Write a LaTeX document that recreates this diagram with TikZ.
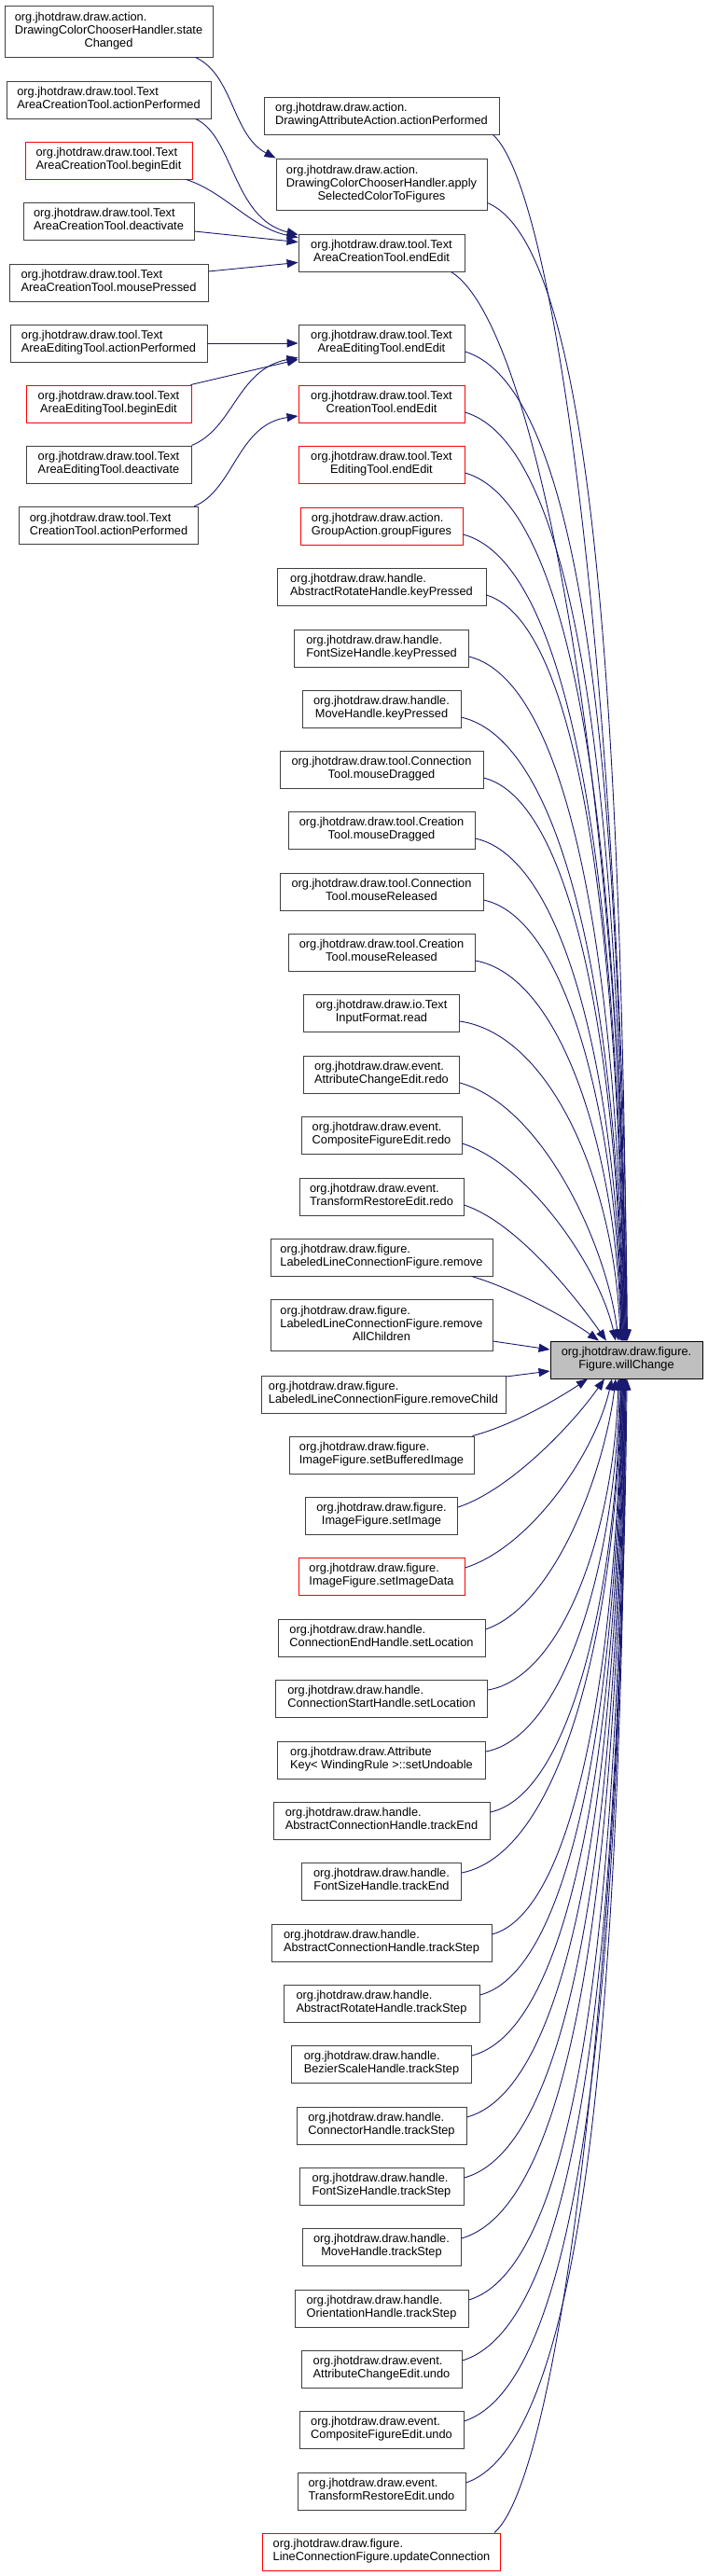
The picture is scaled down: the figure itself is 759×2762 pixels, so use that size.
\documentclass[tikz,border=0pt]{standalone}
\usepackage{fontspec}
\setmainfont{Liberation Sans}
\usetikzlibrary{arrows.meta}

\definecolor{edgeblue}{HTML}{191970}
\definecolor{boxgrey}{HTML}{404040}
\definecolor{rootfill}{HTML}{BFBFBF}

\newcommand{\graphfont}{\fontsize{12.8pt}{14pt}\selectfont}
\newcommand{\twoline}[2]{\begin{tabular}{@{}l@{}}#1\\\multicolumn{1}{@{}c@{}}{#2}\end{tabular}}
\newcommand{\threeline}[3]{\begin{tabular}{@{}l@{}}#1\\#2\\\multicolumn{1}{@{}c@{}}{#3}\end{tabular}}

\tikzset{
  func box/.style={
    rectangle, draw=boxgrey, fill=white, line width=0.9pt, inner sep=0pt,
    minimum height=40pt, font=\graphfont
  },
  trunc box/.style={
    func box, draw=red
  },
  root box/.style={
    func box, draw=black, fill=rootfill
  },
  call edge/.style={
    draw=edgeblue, line width=0.9pt, -{Triangle[length=12pt,width=9pt]}
  }
}

\begin{document}
\begin{tikzpicture}[x=1pt, y=-1pt]
\useasboundingbox (0,0) rectangle (759,2762);

% 左列：调用者的调用者
\begin{scope}[shift={(116.5,0)}]
  \node[func box, minimum width=223pt, minimum height=55pt] (l1) at (0,33.5)
    {\threeline{org.jhotdraw.draw.action.}{DrawingColorChooserHandler.state}{Changed}};
  \node[func box, minimum width=219pt] (l2) at (0,107)
    {\twoline{org.jhotdraw.draw.tool.Text}{AreaCreationTool.actionPerformed}};
  \node[trunc box, minimum width=179pt] (l3) at (0,172)
    {\twoline{org.jhotdraw.draw.tool.Text}{AreaCreationTool.beginEdit}};
  \node[func box, minimum width=183pt] (l4) at (0,237)
    {\twoline{org.jhotdraw.draw.tool.Text}{AreaCreationTool.deactivate}};
  \node[func box, minimum width=213pt] (l5) at (0,303)
    {\twoline{org.jhotdraw.draw.tool.Text}{AreaCreationTool.mousePressed}};
  \node[func box, minimum width=211pt] (l6) at (0,368)
    {\twoline{org.jhotdraw.draw.tool.Text}{AreaEditingTool.actionPerformed}};
  \node[trunc box, minimum width=177pt] (l7) at (0,433)
    {\twoline{org.jhotdraw.draw.tool.Text}{AreaEditingTool.beginEdit}};
  \node[func box, minimum width=177pt] (l8) at (0,498)
    {\twoline{org.jhotdraw.draw.tool.Text}{AreaEditingTool.deactivate}};
  \node[func box, minimum width=192pt] (l9) at (0,563.5)
    {\twoline{org.jhotdraw.draw.tool.Text}{CreationTool.actionPerformed}};
\end{scope}

% 中列：直接调用者
\begin{scope}[shift={(409,0)}]
  \node[func box, minimum width=252pt] (m1) at (0,124)
    {\twoline{org.jhotdraw.draw.action.}{DrawingAttributeAction.actionPerformed}};
  \node[func box, minimum width=226pt, minimum height=55pt] (m2) at (0,197.5)
    {\threeline{org.jhotdraw.draw.action.}{DrawingColorChooserHandler.apply}{SelectedColorToFigures}};
  \node[func box, minimum width=178pt] (m3) at (0,271)
    {\twoline{org.jhotdraw.draw.tool.Text}{AreaCreationTool.endEdit}};
  \node[func box, minimum width=178pt] (m4) at (0,368)
    {\twoline{org.jhotdraw.draw.tool.Text}{AreaEditingTool.endEdit}};
  \node[trunc box, minimum width=178pt] (m5) at (0,433)
    {\twoline{org.jhotdraw.draw.tool.Text}{CreationTool.endEdit}};
  \node[trunc box, minimum width=178pt] (m6) at (0,498)
    {\twoline{org.jhotdraw.draw.tool.Text}{EditingTool.endEdit}};
  \node[trunc box, minimum width=174pt] (m7) at (0,564)
    {\twoline{org.jhotdraw.draw.action.}{GroupAction.groupFigures}};
  \node[func box, minimum width=224pt] (m8) at (0,629)
    {\twoline{org.jhotdraw.draw.handle.}{AbstractRotateHandle.keyPressed}};
  \node[func box, minimum width=187pt] (m9) at (0,695)
    {\twoline{org.jhotdraw.draw.handle.}{FontSizeHandle.keyPressed}};
  \node[func box, minimum width=170pt] (m10) at (0,760)
    {\twoline{org.jhotdraw.draw.handle.}{MoveHandle.keyPressed}};
  \node[func box, minimum width=218pt] (m11) at (0,825)
    {\twoline{org.jhotdraw.draw.tool.Connection}{Tool.mouseDragged}};
  \node[func box, minimum width=200pt] (m12) at (0,890)
    {\twoline{org.jhotdraw.draw.tool.Creation}{Tool.mouseDragged}};
  \node[func box, minimum width=218pt] (m13) at (0,956)
    {\twoline{org.jhotdraw.draw.tool.Connection}{Tool.mouseReleased}};
  \node[func box, minimum width=200pt] (m14) at (0,1021)
    {\twoline{org.jhotdraw.draw.tool.Creation}{Tool.mouseReleased}};
  \node[func box, minimum width=167pt] (m15) at (0,1086)
    {\twoline{org.jhotdraw.draw.io.Text}{InputFormat.read}};
  \node[func box, minimum width=167pt] (m16) at (0,1152)
    {\twoline{org.jhotdraw.draw.event.}{AttributeChangeEdit.redo}};
  \node[func box, minimum width=172pt] (m17) at (0,1217)
    {\twoline{org.jhotdraw.draw.event.}{CompositeFigureEdit.redo}};
  \node[func box, minimum width=176pt] (m18) at (0,1283)
    {\twoline{org.jhotdraw.draw.event.}{TransformRestoreEdit.redo}};
  \node[func box, minimum width=238pt] (m19) at (0,1348)
    {\twoline{org.jhotdraw.draw.figure.}{LabeledLineConnectionFigure.remove}};
  \node[func box, minimum width=238pt, minimum height=55pt] (m20) at (0,1421)
    {\threeline{org.jhotdraw.draw.figure.}{LabeledLineConnectionFigure.remove}{AllChildren}};
  \node[func box, minimum width=262pt] (m21) at (2,1495)
    {\twoline{org.jhotdraw.draw.figure.}{LabeledLineConnectionFigure.removeChild}};
  \node[func box, minimum width=198pt] (m22) at (0,1560)
    {\twoline{org.jhotdraw.draw.figure.}{ImageFigure.setBufferedImage}};
  \node[func box, minimum width=163pt] (m23) at (0,1625)
    {\twoline{org.jhotdraw.draw.figure.}{ImageFigure.setImage}};
  \node[trunc box, minimum width=178pt] (m24) at (0,1690)
    {\twoline{org.jhotdraw.draw.figure.}{ImageFigure.setImageData}};
  \node[func box, minimum width=222pt] (m25) at (0,1756)
    {\twoline{org.jhotdraw.draw.handle.}{ConnectionEndHandle.setLocation}};
  \node[func box, minimum width=227pt] (m26) at (0,1821)
    {\twoline{org.jhotdraw.draw.handle.}{ConnectionStartHandle.setLocation}};
  \node[func box, minimum width=223pt] (m27) at (0,1887)
    {\twoline{org.jhotdraw.draw.Attribute}{Key< WindingRule >::setUndoable}};
  \node[func box, minimum width=232pt] (m28) at (0,1952)
    {\twoline{org.jhotdraw.draw.handle.}{AbstractConnectionHandle.trackEnd}};
  \node[func box, minimum width=171pt] (m29) at (0,2017)
    {\twoline{org.jhotdraw.draw.handle.}{FontSizeHandle.trackEnd}};
  \node[func box, minimum width=236pt] (m30) at (0,2083)
    {\twoline{org.jhotdraw.draw.handle.}{AbstractConnectionHandle.trackStep}};
  \node[func box, minimum width=210pt] (m31) at (0,2148)
    {\twoline{org.jhotdraw.draw.handle.}{AbstractRotateHandle.trackStep}};
  \node[func box, minimum width=193pt] (m32) at (0,2213)
    {\twoline{org.jhotdraw.draw.handle.}{BezierScaleHandle.trackStep}};
  \node[func box, minimum width=182pt] (m33) at (0,2279)
    {\twoline{org.jhotdraw.draw.handle.}{ConnectorHandle.trackStep}};
  \node[func box, minimum width=176pt] (m34) at (0,2344)
    {\twoline{org.jhotdraw.draw.handle.}{FontSizeHandle.trackStep}};
  \node[func box, minimum width=170pt] (m35) at (0,2409)
    {\twoline{org.jhotdraw.draw.handle.}{MoveHandle.trackStep}};
  \node[func box, minimum width=186pt] (m36) at (0,2475)
    {\twoline{org.jhotdraw.draw.handle.}{OrientationHandle.trackStep}};
  \node[func box, minimum width=172pt] (m37) at (0,2540)
    {\twoline{org.jhotdraw.draw.event.}{AttributeChangeEdit.undo}};
  \node[func box, minimum width=176pt] (m38) at (0,2605)
    {\twoline{org.jhotdraw.draw.event.}{CompositeFigureEdit.undo}};
  \node[func box, minimum width=180pt] (m39) at (0,2671)
    {\twoline{org.jhotdraw.draw.event.}{TransformRestoreEdit.undo}};
  \node[trunc box, minimum width=255pt] (m40) at (0,2736)
    {\twoline{org.jhotdraw.draw.figure.}{LineConnectionFigure.updateConnection}};
\end{scope}

% 右侧：被调用函数
\node[root box, minimum width=163pt] (wc) at (671.5,1458)
  {\twoline{org.jhotdraw.draw.figure.}{Figure.willChange}};

% 左列 -> 中列
\draw[call edge] ([xshift=-19pt]l1.south east) .. controls +(41,19) and +(-47,-25) .. (m2.north west);
\draw[call edge] ([xshift=-17pt]l2.south east) .. controls +(41,18) and +(-70,-17) .. ([yshift=-1pt]m3.north west);
\draw[call edge] ([xshift=-7pt]l3.south east) .. controls +(41,13) and +(-50,-10) .. ([yshift=-4pt]m3.north west);
\draw[call edge] ([yshift=-11pt]l4.east) -- ([yshift=-9pt]m3.north west);
\draw[call edge] ([yshift=12pt]l5.east) -- ([yshift=10pt]m3.south west);
\draw[call edge] (l6.east) -- (m4.west);
\draw[call edge] ([xshift=-1pt]l7.north east) -- ([yshift=3pt]m4.south west);
\draw[call edge] (l8.north east) .. controls +(45,-18) and +(-65,12) .. ([yshift=5pt]m4.south west);
\draw[call edge] ([xshift=-5pt]l9.north east) .. controls +(43,-18) and +(-65,9) .. ([yshift=-13pt]m5.west);

% 中列 -> willChange（上半）
\draw[call edge] ([xshift=-7pt]m1.south east) .. controls +(72,65) and +(-5,-647) .. ([xshift=1pt]wc.north);
\draw[call edge] ([yshift=-20pt]m2.east) .. controls +(120,49) and +(-5,-610) .. ([xshift=0.5pt]wc.north);
\draw[call edge] ([xshift=-15pt]m3.south east) .. controls +(94,57) and +(-5,-574) .. (wc.north);
\draw[call edge] ([yshift=-9pt]m4.east) .. controls +(138,42) and +(-5,-529) .. ([xshift=-0.5pt]wc.north);
\draw[call edge] ([yshift=-9pt]m5.east) .. controls +(134,40) and +(-5,-497) .. ([xshift=-1pt]wc.north);
\draw[call edge] ([yshift=-9pt]m6.east) .. controls +(130,37) and +(-5,-464) .. ([xshift=-1.5pt]wc.north);
\draw[call edge] ([yshift=-9pt]m7.east) .. controls +(127,34) and +(-5,-431) .. ([xshift=-2pt]wc.north);
\draw[call edge] ([yshift=-9pt]m8.east) .. controls +(106,32) and +(-5,-399) .. ([xshift=-2.5pt]wc.north);
\draw[call edge] ([yshift=-9pt]m9.east) .. controls +(115,29) and +(-5,-366) .. ([xshift=-3pt]wc.north);
\draw[call edge] ([yshift=-9pt]m10.east) .. controls +(117,27) and +(-5,-333) .. ([xshift=-3.5pt]wc.north);
\draw[call edge] ([yshift=-9pt]m11.east) .. controls +(97,24) and +(-5,-300) .. ([xshift=-4pt]wc.north);
\draw[call edge] ([yshift=-9pt]m12.east) .. controls +(99,21) and +(-5,-268) .. ([xshift=-4.5pt]wc.north);
\draw[call edge] ([yshift=-9pt]m13.east) .. controls +(90,19) and +(-5,-235) .. ([xshift=-5pt]wc.north);
\draw[call edge] ([yshift=-9pt]m14.east) .. controls +(92,16) and +(-5,-203) .. ([xshift=-5.5pt]wc.north);
\draw[call edge] ([yshift=-9pt]m15.east) .. controls +(97,14) and +(-6,-170) .. ([xshift=-6.5pt]wc.north);
\draw[call edge] ([yshift=-9pt]m16.east) .. controls +(90,25) and +(-12,-100) .. ([xshift=-8.5pt]wc.north);
\draw[call edge] ([yshift=-9pt]m17.east) .. controls +(70,22) and +(-18,-80) .. ([xshift=-11.5pt]wc.north);
\draw[call edge] ([yshift=-9pt]m18.east) .. controls +(55,18) and +(-35,-50) .. ([xshift=-21.5pt]wc.north);
\draw[call edge] ([xshift=-23pt]m19.south east) .. controls +(45,13) and +(-30,-22) .. ([xshift=-29.5pt]wc.north);

% 中列 -> willChange（左侧）
\draw[call edge] ([yshift=-17pt]m20.east) -- ([yshift=11pt]wc.west);
\draw[call edge] ([yshift=19pt]m21.east) -- ([yshift=-12pt]wc.west);

% 中列 -> willChange（下半）
\draw[call edge] ([xshift=-2pt]m22.north east) .. controls +(45,-12) and +(-30,20) .. ([xshift=-41.5pt]wc.south);
\draw[call edge] ([yshift=9pt]m23.east) .. controls +(55,-18) and +(-35,50) .. ([xshift=-23.5pt]wc.south);
\draw[call edge] ([yshift=9pt]m24.east) .. controls +(70,-22) and +(-18,80) .. ([xshift=-15.5pt]wc.south);
\draw[call edge] ([yshift=9pt]m25.east) .. controls +(74,-25) and +(-12,100) .. ([xshift=-11.5pt]wc.south);
\draw[call edge] ([yshift=9pt]m26.east) .. controls +(79,-13) and +(-5,166) .. ([xshift=-8.5pt]wc.south);
\draw[call edge] ([yshift=9pt]m27.east) .. controls +(84,-16) and +(-5,199) .. ([xshift=-7pt]wc.south);
\draw[call edge] ([yshift=9pt]m28.east) .. controls +(85,-18) and +(-5,231) .. ([xshift=-6pt]wc.south);
\draw[call edge] ([yshift=9pt]m29.east) .. controls +(107,-21) and +(-5,264) .. ([xshift=-5.5pt]wc.south);
\draw[call edge] ([yshift=9pt]m30.east) .. controls +(90,-24) and +(-5,297) .. ([xshift=-5pt]wc.south);
\draw[call edge] ([yshift=9pt]m31.east) .. controls +(102,-26) and +(-5,329) .. ([xshift=-4.5pt]wc.south);
\draw[call edge] ([yshift=9pt]m32.east) .. controls +(112,-29) and +(-5,362) .. ([xshift=-4pt]wc.south);
\draw[call edge] ([yshift=9pt]m33.east) .. controls +(119,-32) and +(-5,395) .. ([xshift=-3.5pt]wc.south);
\draw[call edge] ([yshift=9pt]m34.east) .. controls +(126,-34) and +(-5,427) .. ([xshift=-3pt]wc.south);
\draw[call edge] ([yshift=9pt]m35.east) .. controls +(132,-37) and +(-5,460) .. ([xshift=-2.5pt]wc.south);
\draw[call edge] ([yshift=9pt]m36.east) .. controls +(130,-39) and +(-5,493) .. ([xshift=-2pt]wc.south);
\draw[call edge] ([yshift=9pt]m37.east) .. controls +(140,-42) and +(-5,525) .. ([xshift=-1.5pt]wc.south);
\draw[call edge] ([yshift=9pt]m38.east) .. controls +(139,-45) and +(-5,558) .. ([xshift=-1pt]wc.south);
\draw[call edge] ([yshift=9pt]m39.east) .. controls +(138,-47) and +(-5,591) .. ([xshift=-0.5pt]wc.south);
\draw[call edge] ([xshift=-7pt]m40.north east) .. controls +(71,-62) and +(-5,619) .. ([xshift=0.5pt]wc.south);

\end{tikzpicture}
\end{document}
